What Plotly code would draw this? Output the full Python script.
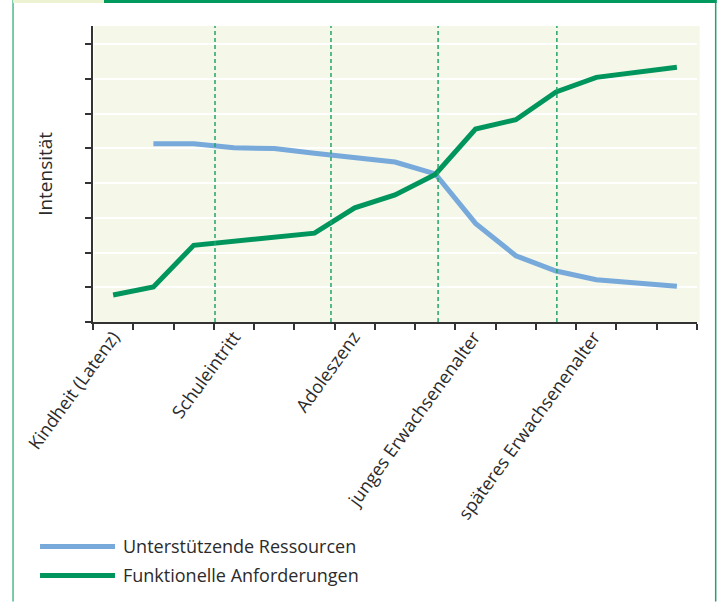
import plotly.graph_objects as go

# Life phases (15 equally spaced steps), shown labels and their positions
steps = list(range(15))
phase_labels = ["Kindheit (Latenz)", "Schuleintritt", "Adoleszenz",
                "junges Erwachsenenalter", "späteres Erwachsenenalter"]
phase_label_pos = [0.0, 3.0, 5.97, 8.96, 11.94]
phase_boundaries = [2.53, 5.41, 8.07, 11.02]

series_names = ["Unterstützende Ressourcen", "Funktionelle Anforderungen"]
ressourcen = [None, 5.14, 5.14, 5.02, 5.0, 4.86, 4.74, 4.61, 4.27,
              2.84, 1.91, 1.47, 1.22, 1.12, 1.03]
anforderungen = [0.78, 1.01, 2.21, 2.33, 2.44, 2.56, 3.29, 3.66, 4.25,
                 5.56, 5.83, 6.63, 7.05, 7.19, 7.34]

y_ticks = list(range(9))
y_max = 8.53

BLUE = "#77a9db"
GREEN = "#00955c"
DASH_GREEN = "#22a56c"
BG = "#f5f7e9"
TEXT = "#2b2b2b"
FONT = "Open Sans"

W, H = 722, 602
L, R, T, B = 93, 697.3, 26, 322.3


def px(x):
    return (x - L) / (R - L)


def py(y):
    return (B - y) / (B - T)


fig = go.Figure()

# phase boundaries (dashed verticals)
for xb in phase_boundaries:
    fig.add_trace(go.Scatter(x=[xb, xb], y=[0, y_max], mode="lines",
                             line=dict(color=DASH_GREEN, width=1.5, dash="4px,3px"),
                             xaxis="x2", showlegend=False, hoverinfo="skip"))

fig.add_trace(go.Scatter(x=steps, y=ressourcen, mode="lines", name=series_names[0],
                         line=dict(color=BLUE, width=5), showlegend=False))
fig.add_trace(go.Scatter(x=steps, y=anforderungen, mode="lines", name=series_names[1],
                         line=dict(color=GREEN, width=5), showlegend=False))

shapes = [
    # plot background
    dict(type="rect", xref="paper", yref="paper", x0=px(94), x1=px(700),
         y0=py(322.3), y1=py(26), fillcolor=BG, line_width=0, layer="below"),
    # page frame
    dict(type="line", xref="paper", yref="paper", x0=px(13), x1=px(13),
         y0=py(0), y1=py(602), line=dict(color="#4fbb8b", width=1.5)),
    dict(type="line", xref="paper", yref="paper", x0=px(716), x1=px(716),
         y0=py(0), y1=py(602), line=dict(color="#2a9f6b", width=1.5)),
    dict(type="rect", xref="paper", yref="paper", x0=px(13), x1=px(104),
         y0=py(3), y1=py(0), fillcolor="#edf2d3", line_width=0),
    dict(type="rect", xref="paper", yref="paper", x0=px(104), x1=px(717),
         y0=py(3), y1=py(0), fillcolor="#009a5e", line_width=0),
]

annotations = [
    dict(text="Intensität", xref="paper", yref="paper", x=px(45), y=py(174),
         xanchor="center", yanchor="middle", textangle=-90, showarrow=False,
         font=dict(family=FONT, size=19, color=TEXT)),
]

# legend drawn as line samples with labels
for i, (name, col) in enumerate(zip(series_names, [BLUE, GREEN])):
    yl = 547 + 29 * i
    shapes.append(dict(type="line", xref="paper", yref="paper",
                       x0=px(40), x1=px(115), y0=py(yl), y1=py(yl),
                       line=dict(color=col, width=5)))
    annotations.append(dict(text=name, xref="paper", yref="paper",
                            x=px(121), y=py(yl), xanchor="left", yanchor="middle",
                            showarrow=False,
                            font=dict(family=FONT, size=18, color=TEXT)))

fig.update_layout(
    width=W, height=H,
    margin=dict(l=L, r=W - R, t=T, b=H - B, autoexpand=False),
    paper_bgcolor="white",
    plot_bgcolor="rgba(0,0,0,0)",
    showlegend=False,
    shapes=shapes,
    annotations=annotations,
    xaxis=dict(range=[-0.5, 14.5], tickvals=[v - 0.5 for v in range(16)],
               showticklabels=False, ticks="outside", ticklen=6, tickwidth=1.5,
               tickcolor="#333", showline=True, linecolor="#333", linewidth=1.5,
               showgrid=False, zeroline=False, automargin=False),
    xaxis2=dict(range=[-0.5, 14.5], overlaying="x", side="bottom",
                tickvals=phase_label_pos, ticktext=phase_labels, tickangle=-54,
                ticks="", showline=False, showgrid=False, zeroline=False,
                automargin=False,
                tickfont=dict(family=FONT, size=18, color=TEXT)),
    yaxis=dict(range=[0, y_max], tickvals=y_ticks, showticklabels=False,
               ticks="outside", ticklen=6, tickwidth=1.5, tickcolor="#333",
               showline=True, linecolor="#333", linewidth=1.5, automargin=False,
               showgrid=True, gridcolor="white", gridwidth=1.5, zeroline=False),
)

fig.write_html("out.html")
